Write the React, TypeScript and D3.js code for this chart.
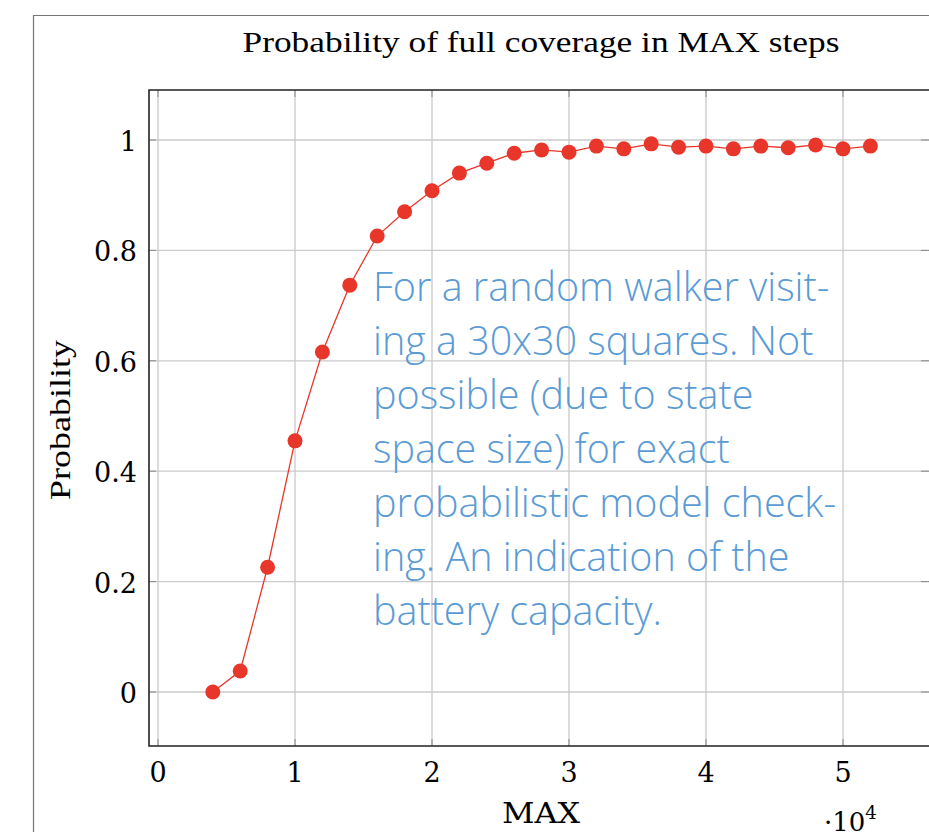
import React, { useEffect, useRef } from 'react';
import * as d3 from 'd3';

// MAX in units of 10^4
const maxSteps = [0.4, 0.6, 0.8, 1.0, 1.2, 1.4, 1.6, 1.8, 2.0, 2.2, 2.4, 2.6, 2.8, 3.0, 3.2, 3.4, 3.6, 3.8, 4.0, 4.2, 4.4, 4.6, 4.8, 5.0, 5.2];
const probability = [0, 0.038, 0.226, 0.455, 0.616, 0.737, 0.826, 0.87, 0.908, 0.94, 0.958, 0.976, 0.982, 0.978, 0.989, 0.984, 0.993, 0.987, 0.989, 0.984, 0.989, 0.986, 0.991, 0.984, 0.989];
const xTicks = [0, 1, 2, 3, 4, 5];
const yTicks = [0, 0.2, 0.4, 0.6, 0.8, 1];
const noteLines = [
  'For a random walker visit-',
  'ing a 30x30 squares. Not',
  'possible (due to state',
  'space size) for exact',
  'probabilistic model check-',
  'ing. An indication of the',
  'battery capacity.',
];

const W = 929;
const H = 832;
const serif = "'DejaVu Serif', 'Liberation Serif', serif";

export default function App() {
  const ref = useRef<SVGSVGElement>(null);

  useEffect(() => {
    const svg = d3.select(ref.current);
    svg.selectAll('*').remove();

    const left = 149, top = 90, bottom = 746, right = 940;
    const x = d3.scaleLinear().domain([0, 1]).range([158, 295]);
    const y = d3.scaleLinear().domain([0, 1]).range([692, 140]);

    // outer figure frame
    svg.append('path')
      .attr('d', `M33.5,${H} V15.5 H${W}`)
      .attr('fill', 'none').attr('stroke', '#777').attr('stroke-width', 1.2);

    svg.append('text')
      .attr('x', 541).attr('y', 52)
      .attr('text-anchor', 'middle')
      .attr('font-family', "'Liberation Serif', serif").attr('font-size', 29)
      .attr('textLength', 597).attr('lengthAdjust', 'spacingAndGlyphs')
      .text('Probability of full coverage in MAX steps');

    const g = svg.append('g');

    // grid
    g.selectAll('line.gx').data(xTicks).join('line')
      .attr('x1', d => x(d)).attr('x2', d => x(d))
      .attr('y1', top).attr('y2', bottom)
      .attr('stroke', '#cacaca').attr('stroke-width', 1.3);
    g.selectAll('line.gy').data(yTicks).join('line')
      .attr('y1', d => y(d)).attr('y2', d => y(d))
      .attr('x1', left).attr('x2', right)
      .attr('stroke', '#cacaca').attr('stroke-width', 1.3);

    // inner ticks
    g.selectAll('line.tx').data(xTicks).join('line')
      .attr('x1', d => x(d)).attr('x2', d => x(d))
      .attr('y1', bottom).attr('y2', bottom - 7)
      .attr('stroke', '#888').attr('stroke-width', 1);
    g.selectAll('line.tx2').data(xTicks).join('line')
      .attr('x1', d => x(d)).attr('x2', d => x(d))
      .attr('y1', top).attr('y2', top + 7)
      .attr('stroke', '#888').attr('stroke-width', 1);
    g.selectAll('line.ty').data(yTicks).join('line')
      .attr('y1', d => y(d)).attr('y2', d => y(d))
      .attr('x1', left).attr('x2', left + 7)
      .attr('stroke', '#888').attr('stroke-width', 1);
    g.selectAll('line.ty2').data(yTicks).join('line')
      .attr('y1', d => y(d)).attr('y2', d => y(d))
      .attr('x1', W - 8).attr('x2', W)
      .attr('stroke', '#888').attr('stroke-width', 1);

    // axis frame
    g.append('path')
      .attr('d', `M${right},${top} H${left} V${bottom} H${right}`)
      .attr('fill', 'none').attr('stroke', '#222').attr('stroke-width', 1.6);

    // tick labels
    g.selectAll('text.xl').data(xTicks).join('text')
      .attr('x', d => x(d)).attr('y', 782)
      .attr('text-anchor', 'middle')
      .attr('font-family', serif).attr('font-size', 27)
      .text(d => d3.format('d')(d));
    g.selectAll('text.yl').data(yTicks).join('text')
      .attr('x', 137).attr('y', d => y(d) + 11)
      .attr('text-anchor', 'end')
      .attr('font-family', serif).attr('font-size', 27)
      .text(d => (d === 0 || d === 1 ? String(d) : d3.format('.1f')(d)));

    // axis titles
    g.append('text')
      .attr('x', 541).attr('y', 823)
      .attr('text-anchor', 'middle')
      .attr('font-family', serif).attr('font-size', 27)
      .attr('textLength', 78).attr('lengthAdjust', 'spacingAndGlyphs')
      .text('MAX');
    const sc = g.append('text')
      .attr('x', 824).attr('y', 831)
      .attr('font-family', serif).attr('font-size', 26);
    sc.append('tspan').text('·10');
    sc.append('tspan').attr('dy', -12).attr('font-size', 18).text('4');
    g.append('text')
      .attr('transform', 'translate(70,420) rotate(-90)')
      .attr('text-anchor', 'middle')
      .attr('font-family', "'Liberation Serif', serif").attr('font-size', 29)
      .attr('textLength', 160).attr('lengthAdjust', 'spacingAndGlyphs')
      .text('Probability');

    // data
    const pts = maxSteps.map((m, i) => [m, probability[i]] as [number, number]);
    const line = d3.line<[number, number]>().x(d => x(d[0])).y(d => y(d[1]));
    g.append('path')
      .datum(pts)
      .attr('d', line)
      .attr('fill', 'none').attr('stroke', '#e8362b').attr('stroke-width', 1.3);
    g.selectAll('circle').data(pts).join('circle')
      .attr('cx', d => x(d[0])).attr('cy', d => y(d[1]))
      .attr('r', 7.5)
      .attr('fill', '#e8362b');

    // annotation
    const note = g.append('text')
      .attr('font-family', "'Open Sans', 'Noto Sans', sans-serif")
      .attr('font-weight', 300)
      .attr('font-size', 39.5)
      .attr('fill', '#5b9bd5');
    note.selectAll('tspan').data(noteLines).join('tspan')
      .attr('x', 373).attr('y', (_d, i) => 301 + i * 54)
      .text(d => d);
  }, []);

  return (
    <svg ref={ref} width={W} height={H}
      style={{ position: 'absolute', left: 0, top: 0, background: '#fff' }} />
  );
}
